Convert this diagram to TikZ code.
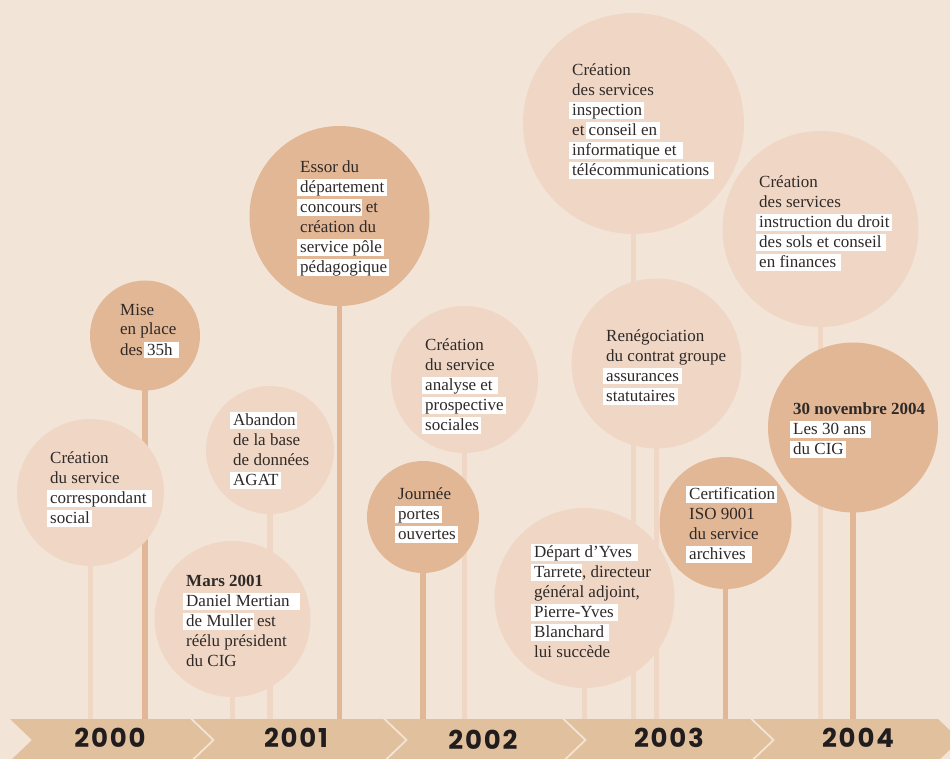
\documentclass[tikz,border=0pt]{standalone}
\usepackage{fontspec}
\setmainfont{Liberation Serif}
\newfontfamily\yearfont{Poppins}[LetterSpace=7]

\definecolor{bgc}{HTML}{F3E4D8}
\definecolor{paleball}{HTML}{F0D7C5}
\definecolor{deepball}{HTML}{E2B795}
\definecolor{bandc}{HTML}{E1C19D}
\definecolor{inkc}{HTML}{2F2928}
\definecolor{yearc}{HTML}{211D1E}

% white marker box behind a word group; optional arg = right padding
\newcommand\hl[2][5pt]{\setbox0=\hbox{#2}\leavevmode
  \rlap{\kern-3pt\textcolor{white}{\vrule width \dimexpr\wd0+3pt+#1\relax height 13.5pt depth 3.5pt}}\box0\relax}
% stack of left aligned lines, baseline at the first line
\newcommand\block[1]{\begin{tabular}[t]{@{}l@{}}#1\end{tabular}}

\pgfdeclarelayer{paper}
\pgfdeclarelayer{stems}
\pgfsetlayers{paper,stems,main}

\tikzset{
  bubble/.style={circle, inner sep=0pt, minimum size=#1},
  pale/.style={fill=paleball},
  deep/.style={fill=deepball},
  stempale/.style={draw=paleball, line width=5.5pt},
  stemdeep/.style={draw=deepball, line width=5.5pt},
  label/.style={anchor=base west, inner sep=0pt, text=inkc,
    font=\fontsize{17}{20}\selectfont},
  yearlabel/.style={anchor=base, inner sep=0pt, text=yearc,
    font=\yearfont\bfseries\fontsize{26}{26}\selectfont},
}

\begin{document}
\begin{tikzpicture}[x=1pt, y=-1pt]
\begin{pgfonlayer}{paper}
\fill[bgc] (0,0) rectangle (950,759);
\end{pgfonlayer}
\useasboundingbox (0,0) rectangle (950,759);

% bubbles
\node[bubble=147pt, pale] (c1) at (90.5,492.5) {};
\node[bubble=110pt, deep] (c2) at (145,335.5) {};
\node[bubble=128pt, pale] (c3) at (270,450) {};
\node[bubble=156pt, pale] (c4) at (232.5,619) {};
\node[bubble=180pt, deep] (c5) at (339.5,216) {};
\node[bubble=147pt, pale] (c6) at (464.5,379.5) {};
\node[bubble=112pt, deep] (c7) at (423,517) {};
\node[bubble=221pt, pale] (c8) at (633.5,123.5) {};
\node[bubble=170pt, pale] (c9) at (656.5,363.5) {};
\node[bubble=180pt, pale] (c10) at (584.5,598) {};
\node[bubble=132pt, deep] (c11) at (725.5,523) {};
\node[bubble=196pt, pale] (c12) at (820.5,229) {};
\node[bubble=170pt, deep] (c13) at (853,427.5) {};

% stems from each bubble down to the year band
\coordinate (bandtop) at (0,719);
\begin{pgfonlayer}{stems}
\draw[stempale] (c1.center) -- (c1.center |- bandtop);
\draw[stemdeep] (c2.center) -- (c2.center |- bandtop);
\draw[stempale] (c3.center) -- (c3.center |- bandtop);
\draw[stempale] (c4.center) -- (c4.center |- bandtop);
\draw[stemdeep] (c5.center) -- (c5.center |- bandtop);
\draw[stempale] (c6.center) -- (c6.center |- bandtop);
\draw[stemdeep] (c7.center) -- (c7.center |- bandtop);
\draw[stempale] (c8.center) -- (c8.center |- bandtop);
\draw[stempale] (c9.center) -- (c9.center |- bandtop);
\draw[stempale] (c10.center) -- (c10.center |- bandtop);
\draw[stemdeep] (c11.center) -- (c11.center |- bandtop);
\draw[stempale] (c12.center) -- (c12.center |- bandtop);
\draw[stemdeep] (c13.center) -- (c13.center |- bandtop);
\end{pgfonlayer}

% year band: chevron segments
\fill[bandc] (10,719) -- (190,719) -- (212,740) -- (190,761) -- (10,761) -- (32,740) -- cycle;
\fill[bandc] (193,719) -- (383,719) -- (405,740) -- (383,761) -- (193,761) -- (215,740) -- cycle;
\fill[bandc] (386,719) -- (562,719) -- (584,740) -- (562,761) -- (386,761) -- (408,740) -- cycle;
\fill[bandc] (565,719) -- (750,719) -- (772,740) -- (750,761) -- (565,761) -- (587,740) -- cycle;
\fill[bandc] (753,719) -- (938,719) -- (960,740) -- (938,761) -- (753,761) -- (775,740) -- cycle;

\node[yearlabel] (y2000) at (110,747.5) {2000};
\node[yearlabel] (y2001) at (296,747) {2001};
\node[yearlabel] (y2002) at (483,749.5) {2002};
\node[yearlabel] (y2003) at (669,747.5) {2003};
\node[yearlabel] (y2004) at (858,747.5) {2004};

% texts
\node[label] (t1) at (50,463) {\block{Création\\du service\\\hl[6pt]{correspondant}\\\hl[2pt]{social}}};
\node[label] (t2) at (120,315) {\block{Mise\\en place\\des \hl[6pt]{35h}}};
\node[label] (t3) at (233,425) {\block{\hl[1pt]{Abandon}\\de la base\\de données\\\hl[2pt]{AGAT}}};
\node[label] (t4) at (186,586) {\block{\textbf{Mars 2001}\\\hl[10pt]{Daniel Mertian}\\\hl[1pt]{de Muller} est\\réélu président\\du CIG}};
\node[label] (t5) at (300,173) {\block{Essor du\\\hl[3pt]{département}\\\hl[0pt]{concours} et\\création du\\\hl[2pt]{service pôle}\\\hl[2pt]{pédagogique}}};
\node[label] (t6) at (425,350) {\block{Création\\du service\\\hl[5pt]{analyse et}\\\hl[2pt]{prospective}\\\hl[2pt]{sociales}}};
\node[label] (t7) at (398,499) {\block{Journée\\\hl[2pt]{portes}\\\hl[2pt]{ouvertes}}};
\node[label] (t8) at (572,76) {\block{Création\\des services\\\hl[2pt]{inspection}\\et \hl[3pt]{conseil en}\\\hl[6pt]{informatique et}\\\hl[5pt]{télécommunications}}};
\node[label] (t9) at (606,341) {\block{Renégociation\\du contrat groupe\\\hl[3pt]{assurances}\\\hl[3pt]{statutaires}}};
\node[label] (t10) at (534,557) {\block{\hl[6pt]{Départ d’Yves}\\\hl[0pt]{Tarrete}, directeur\\général adjoint,\\\hl[4pt]{Pierre-Yves}\\\hl[5pt]{Blanchard}\\lui succède}};
\node[label] (t11) at (689,499) {\block{\hl[2pt]{Certification}\\ISO 9001\\du service\\\hl[6pt]{archives}}};
\node[label] (t12) at (759,188) {\block{Création\\des services\\\hl[2pt]{instruction du droit}\\\hl[5pt]{des sols et conseil}\\\hl[5pt]{en finances}}};
\node[label] (t13) at (793,414) {\block{\textbf{30 novembre 2004}\\\hl[5pt]{Les 30 ans}\\\hl[2pt]{du CIG}}};
\end{tikzpicture}
\end{document}
